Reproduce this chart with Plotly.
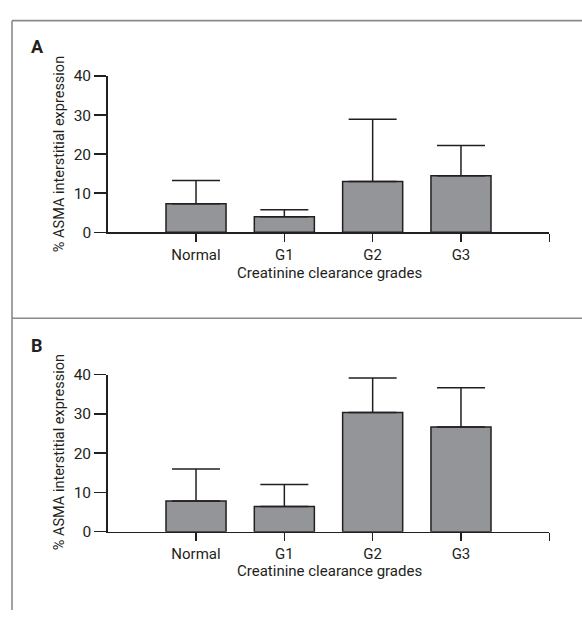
import plotly.graph_objects as go

# ---- data ----
categories = ["Normal", "G1", "G2", "G3"]
panel_a_mean = [7.3, 4.0, 13.0, 14.5]
panel_a_sd = [5.95, 1.8, 15.9, 7.7]
panel_b_mean = [7.8, 6.4, 30.4, 26.7]
panel_b_sd = [8.2, 5.6, 8.8, 10.0]
y_ticks = [0, 10, 20, 30, 40]
panel_labels = ["A", "B"]
x_title = "Creatinine clearance grades"
y_title = "% ASMA interstitial expression"

W, H = 582, 619
FONT = "Roboto, Liberation Sans, sans-serif"
INK = "#231f20"
BAR = "#939598"
FRAME = "#8a8a8a"
FS = 15

def px_x(p):
    return p / W

def px_y(p):
    return (H - p) / H

xpos = list(range(len(categories)))

fig = go.Figure()

panels = [
    (panel_a_mean, panel_a_sd, "x", "y"),
    (panel_b_mean, panel_b_sd, "x2", "y2"),
]

for mean, sd, xa, ya in panels:
    fig.add_trace(go.Bar(
        x=xpos, y=mean, width=0.68,
        marker=dict(color=BAR, line=dict(color=INK, width=1.5)),
        error_y=dict(type="data", array=sd, arrayminus=[0] * len(sd),
                     symmetric=False, color=INK, thickness=1.5, width=24),
        xaxis=xa, yaxis=ya, showlegend=False, hoverinfo="skip",
    ))

x_left, x_right = 107.7, 549.3
axis_common_x = dict(
    range=[-1, 4], tickmode="array",
    tickvals=xpos + [len(categories)], ticktext=categories + [""],
    ticks="outside", ticklen=8, tickwidth=1.5, tickcolor=INK,
    showline=True, linecolor=INK, linewidth=1.5,
    showgrid=False, zeroline=False,
    tickfont=dict(family=FONT, size=FS, color=INK),
    domain=[px_x(x_left), px_x(x_right)],
)
axis_common_y = dict(
    range=[0, 40], tickmode="array", tickvals=y_ticks,
    ticks="outside", ticklen=12, tickwidth=1.5, tickcolor=INK,
    showline=True, linecolor=INK, linewidth=1.5,
    showgrid=False, zeroline=False,
    tickfont=dict(family=FONT, size=15.5, color=INK),
)

fig.update_layout(
    width=W, height=H,
    margin=dict(l=0, r=0, t=0, b=0),
    paper_bgcolor="white", plot_bgcolor="white",
    bargap=0,
    xaxis=dict(axis_common_x, anchor="y"),
    yaxis=dict(axis_common_y, anchor="x", domain=[px_y(230.0), px_y(69.0)]),
    xaxis2=dict(axis_common_x, anchor="y2"),
    yaxis2=dict(axis_common_y, anchor="x2", domain=[px_y(538.3), px_y(376.7)]),
)

annotations = []
label_pos = [(37.5, 39.0), (37.0, 346.5)]
xtitle_y = [271.7, 579.0]
ytitle_y = [149.5, 456.5]
for i in range(2):
    lx, ly = label_pos[i]
    annotations.append(dict(
        text="<b>%s</b>" % panel_labels[i], x=px_x(lx), y=px_y(ly),
        xref="paper", yref="paper", showarrow=False,
        xanchor="center", yanchor="middle",
        font=dict(family=FONT, size=18, color=INK)))
    annotations.append(dict(
        text=x_title, x=px_x(329.0), y=px_y(xtitle_y[i]),
        xref="paper", yref="paper", showarrow=False,
        xanchor="center", yanchor="middle",
        font=dict(family=FONT, size=FS, color=INK)))
    annotations.append(dict(
        text=y_title, x=px_x(59.0), y=px_y(ytitle_y[i]),
        xref="paper", yref="paper", showarrow=False, textangle=-90,
        xanchor="center", yanchor="middle",
        font=dict(family=FONT, size=14.5, color=INK)))
fig.update_layout(annotations=annotations)

# panel frame lines
shapes = [
    dict(type="line", xref="paper", yref="paper",
         x0=px_x(12), x1=1, y0=px_y(12), y1=px_y(12),
         line=dict(color=FRAME, width=1.6)),
    dict(type="line", xref="paper", yref="paper",
         x0=px_x(12), x1=1, y0=px_y(318.5), y1=px_y(318.5),
         line=dict(color=FRAME, width=1.6)),
    dict(type="line", xref="paper", yref="paper",
         x0=px_x(12), x1=px_x(12), y0=px_y(12), y1=0,
         line=dict(color=FRAME, width=1.6)),
]
fig.update_layout(shapes=shapes)

fig.write_html(
    "out.html",
    config={"displayModeBar": False, "staticPlot": True},
    post_script="document.body.style.margin='0';document.documentElement.style.overflow='hidden';document.body.style.overflow='hidden';",
)
